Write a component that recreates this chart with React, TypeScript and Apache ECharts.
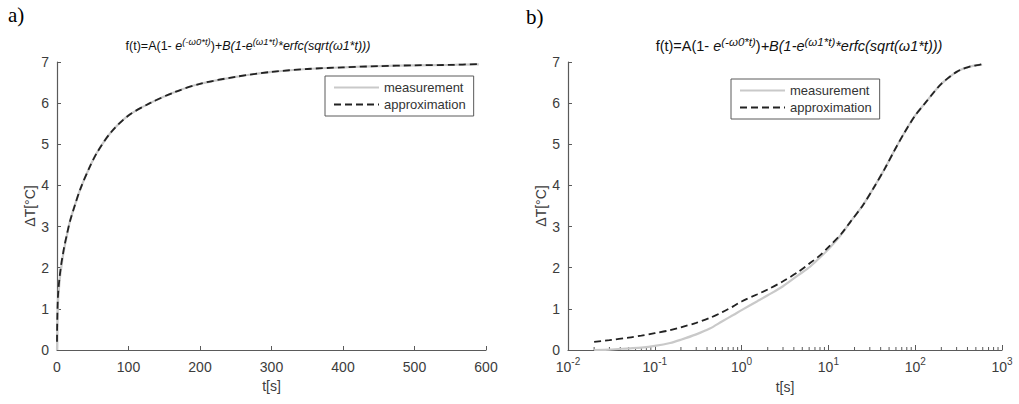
import React, { useEffect, useRef } from "react";
import * as echarts from "echarts";

// ---- data ----
const timeValues = [
  0.02, 0.03, 0.05, 0.07, 0.1, 0.15, 0.2, 0.3, 0.43, 0.6, 0.8, 1, 1.5, 2, 3,
  4.5, 6.2, 8, 10, 14, 18, 25, 33, 45, 56, 75, 100, 130, 165, 200, 250, 300,
  350, 400, 450, 500, 550, 590,
];
const measurementValues = [
  0.0, 0.01, 0.04, 0.06, 0.1, 0.17, 0.25, 0.38, 0.52, 0.7, 0.85, 0.97, 1.18,
  1.33, 1.55, 1.82, 2.03, 2.25, 2.45, 2.8, 3.12, 3.52, 3.93, 4.42, 4.8, 5.28,
  5.7, 6.0, 6.27, 6.47, 6.64, 6.76, 6.83, 6.87, 6.9, 6.92, 6.93, 6.94,
];
const approximationValues = [
  0.2, 0.24, 0.3, 0.35, 0.41, 0.48, 0.55, 0.66, 0.78, 0.92, 1.06, 1.18, 1.35,
  1.47, 1.67, 1.9, 2.12, 2.3, 2.5, 2.82, 3.12, 3.52, 3.93, 4.42, 4.8, 5.28, 5.7,
  6.0, 6.27, 6.47, 6.64, 6.76, 6.83, 6.87, 6.9, 6.92, 6.93, 6.95,
];
const seriesNames = ["measurement", "approximation"];
const panelLabels = ["a)", "b)"];
const yTicks = { min: 0, max: 7, interval: 1 };
const xLinear = { min: 0, max: 600, interval: 100 };
const xLog = { min: 0.01, max: 1000 };
const logDecades = [-2, -1, 0, 1, 2];
const minorMantissas = [2, 3, 4, 5, 6, 7, 8, 9];
const xAxisName = "t[s]";
const yAxisName = "ΔT[°C]";
const titleRich =
  "{n|f(t)=A(1- }{i|e}{s|(-ω0*t)}{n|)}{i|+B(1-e}{s|(ω1*t)}{i|*erfc(sqrt(ω1*t)))}";

const FONT = "'Liberation Sans', Arial, sans-serif";
const SERIF = "'Liberation Serif', 'Times New Roman', serif";
const AX = "#5a5a5a";
const TXT = "#3c3c3c";

const pairs = (vals: number[]) => timeValues.map((t, i) => [t, vals[i]]);
const minorTickData: number[][] = [];
logDecades.forEach((d) =>
  minorMantissas.forEach((m) => minorTickData.push([m * Math.pow(10, d), 0]))
);

function titleStyle(cx: number, cy: number, size: number) {
  return {
    type: "text",
    x: cx,
    y: cy,
    style: {
      text: titleRich,
      align: "center",
      verticalAlign: "middle",
      rich: {
        n: { fontFamily: FONT, fontSize: size, fill: "#111", lineHeight: 20 },
        i: {
          fontFamily: FONT,
          fontSize: size,
          fontStyle: "italic",
          fill: "#111",
          lineHeight: 20,
        },
        s: {
          fontFamily: FONT,
          fontSize: size - 3,
          fontStyle: "italic",
          fill: "#111",
          lineHeight: 10,
          verticalAlign: "top",
        },
      },
    },
  };
}

function yAxisCfg(grid: number, gap: number) {
  return {
    type: "value",
    gridIndex: grid,
    ...yTicks,
    name: yAxisName,
    nameLocation: "middle",
    nameGap: gap,
    nameTextStyle: { fontFamily: FONT, fontSize: 14, color: TXT },
    axisLine: { show: true, lineStyle: { color: AX, width: 1.2 } },
    axisTick: { show: true, inside: true, length: 4, lineStyle: { color: AX } },
    axisLabel: { fontFamily: FONT, fontSize: 14, color: TXT, margin: 8 },
    splitLine: { show: false },
  };
}

function legendCfg(left: number, top: number) {
  return {
    data: seriesNames,
    left,
    top,
    orient: "vertical",
    selectedMode: false,
    itemWidth: 45,
    itemHeight: 14,
    itemGap: 4,
    padding: [5, 8, 5, 8],
    borderColor: AX,
    borderWidth: 1,
    borderRadius: 0,
    backgroundColor: "#fff",
    itemStyle: { opacity: 0 },
    textStyle: { fontFamily: FONT, fontSize: 13, color: "#333" },
  };
}

function lineSeries(idx: number, axis: number) {
  const isMeas = idx === 0;
  return {
    name: seriesNames[idx],
    type: "line",
    xAxisIndex: axis,
    yAxisIndex: axis,
    data: pairs(isMeas ? measurementValues : approximationValues),
    symbol: "none",
    smooth: 0.3,
    lineStyle: isMeas
      ? { color: "#c9c9c9", width: 2.2 }
      : { color: "#222", width: 1.8, type: [7, 4] },
    itemStyle: { color: isMeas ? "#c9c9c9" : "#222", opacity: 0 },
  };
}

const option: any = {
  animation: false,
  backgroundColor: "#fff",
  grid: [
    { left: 57, right: 533, top: 62, bottom: 54 },
    { left: 568, right: 17, top: 62, bottom: 54 },
  ],
  legend: [legendCfg(325, 76), legendCfg(731, 79)],
  graphic: [
    {
      type: "text",
      x: 8,
      y: 4,
      style: { text: panelLabels[0], fontFamily: SERIF, fontSize: 21, fill: "#000" },
    },
    {
      type: "text",
      x: 526,
      y: 6,
      style: { text: panelLabels[1], fontFamily: SERIF, fontSize: 21, fill: "#000" },
    },
    titleStyle(248, 46, 12.5),
    titleStyle(799, 46, 14.5),
  ],
  xAxis: [
    {
      type: "value",
      gridIndex: 0,
      ...xLinear,
      name: xAxisName,
      nameLocation: "middle",
      nameGap: 25,
      nameTextStyle: { fontFamily: FONT, fontSize: 14, color: TXT },
      axisLine: { show: true, lineStyle: { color: AX, width: 1.2 } },
      axisTick: { show: true, inside: true, length: 4, lineStyle: { color: AX } },
      axisLabel: { fontFamily: FONT, fontSize: 14, color: TXT, margin: 10 },
      splitLine: { show: false },
    },
    {
      type: "log",
      logBase: 10,
      gridIndex: 1,
      ...xLog,
      name: xAxisName,
      nameLocation: "middle",
      nameGap: 30,
      nameTextStyle: { fontFamily: FONT, fontSize: 14, color: TXT },
      axisLine: { show: true, lineStyle: { color: AX, width: 1.2 } },
      axisTick: { show: true, inside: true, length: 5, lineStyle: { color: AX } },
      axisLabel: {
        margin: 6,
        formatter: (v: number) => `{b|10}{e|${Math.round(Math.log10(v))}}`,
        rich: {
          b: { fontFamily: FONT, fontSize: 14, color: TXT, lineHeight: 22 },
          e: {
            fontFamily: FONT,
            fontSize: 10,
            color: TXT,
            lineHeight: 12,
            verticalAlign: "top",
          },
        },
      },
      splitLine: { show: false },
    },
  ],
  yAxis: [yAxisCfg(0, 20), yAxisCfg(1, 19)],
  series: [
    lineSeries(0, 0),
    lineSeries(1, 0),
    lineSeries(0, 1),
    lineSeries(1, 1),
    {
      name: "minorTicks",
      type: "custom",
      xAxisIndex: 1,
      yAxisIndex: 1,
      data: minorTickData,
      encode: { x: 0, y: 1 },
      silent: true,
      clip: false,
      renderItem: (_p: any, api: any) => {
        const pt = api.coord([api.value(0), 0]);
        return {
          type: "line",
          shape: { x1: pt[0], y1: pt[1], x2: pt[0], y2: pt[1] - 3 },
          style: { stroke: AX, lineWidth: 1 },
        };
      },
    },
  ],
};

export default function App() {
  const ref = useRef<HTMLDivElement>(null);
  useEffect(() => {
    const chart = echarts.init(ref.current!, null, { renderer: "svg" });
    chart.setOption(option);
    return () => chart.dispose();
  }, []);
  return (
    <div
      ref={ref}
      style={{
        position: "fixed",
        left: 0,
        top: 0,
        width: 1019,
        height: 404,
        background: "#fff",
      }}
    />
  );
}
